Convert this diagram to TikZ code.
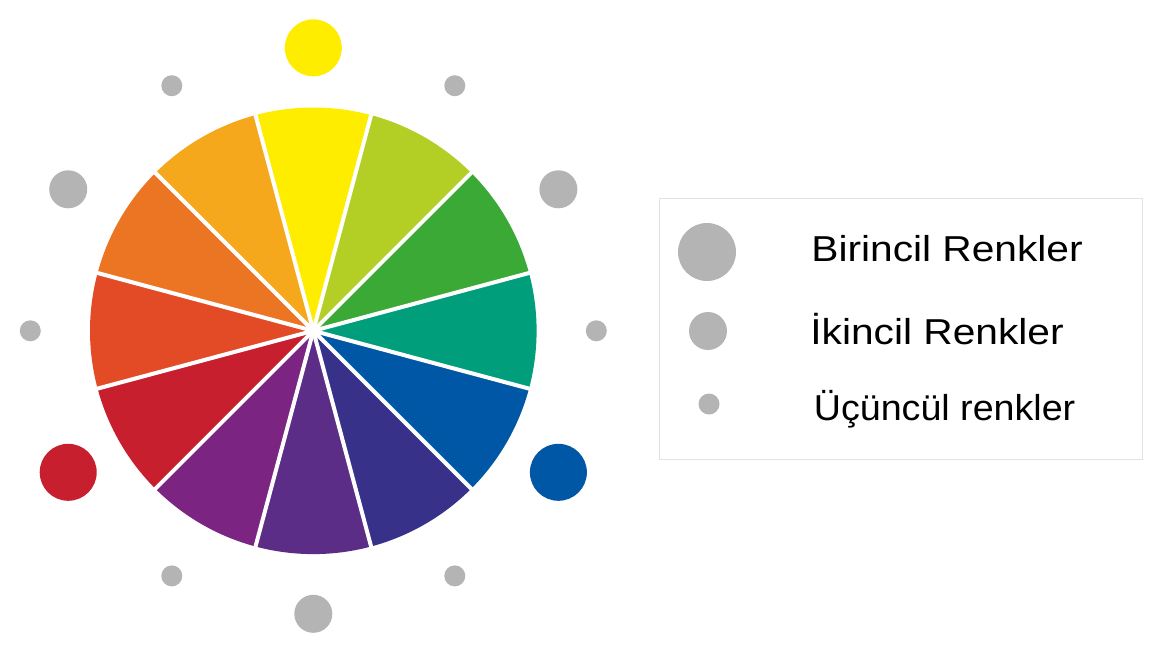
\documentclass[tikz,border=0pt]{standalone}
\usepackage{fontspec}
\newfontfamily\legendfont[FakeStretch=1.13]{Liberation Sans}
\newfontfamily\legendfontn[FakeStretch=1.045]{Liberation Sans}
\definecolor{cYellow}{HTML}{FFED00}
\definecolor{cYG}{HTML}{B3CF26}
\definecolor{cGreen}{HTML}{3AA935}
\definecolor{cTeal}{HTML}{009E7B}
\definecolor{cBlue}{HTML}{0057A6}
\definecolor{cIndigo}{HTML}{37318A}
\definecolor{cPurple}{HTML}{5C2D86}
\definecolor{cViolet}{HTML}{7B2481}
\definecolor{cRed}{HTML}{C81F2E}
\definecolor{cRO}{HTML}{E34B27}
\definecolor{cOrange}{HTML}{EC7524}
\definecolor{cYO}{HTML}{F6A81C}
\definecolor{dotgray}{HTML}{B4B4B4}
\definecolor{bordergray}{HTML}{E2E2E2}
\begin{document}
\begin{tikzpicture}[x=0.02cm,y=-0.02cm,
  dot/.style={circle,fill=#1,inner sep=0pt,draw=none},
  primdot/.style={dot=#1,minimum size=1.14cm},
  secdot/.style={dot=#1,minimum size=0.76cm},
  terdot/.style={dot=#1,minimum size=0.42cm},
  legtext/.style={anchor=base west,inner sep=0pt,font=\legendfont\fontsize{20.5}{24}\selectfont}]
\fill[white] (0,0) rectangle (1160,664);
\useasboundingbox (0,0) rectangle (1160,664);
\coordinate (c) at (313.3,330.8);
\begin{scope}[shift={(c)},x=0.02cm,y=0.02cm]
  \foreach \a/\col in {75/cYellow,45/cYG,15/cGreen,-15/cTeal,-45/cBlue,-75/cIndigo,-105/cPurple,-135/cViolet,-165/cRed,165/cRO,135/cOrange,105/cYO}
    {\fill[\col] (0,0) -- (\a:223.3) arc[start angle=\a,delta angle=30,radius=223.3] -- cycle;}
  \foreach \a in {15,45,...,345}
    {\draw[white,line width=0.08cm] (0,0) -- (\a:226);}
  \node[primdot=cYellow] (p1) at (90:283) {};
  \node[primdot=cBlue] (p2) at (-30:283) {};
  \node[primdot=cRed] (p3) at (-150:283) {};
  \node[secdot=dotgray] (s1) at (30:283) {};
  \node[secdot=dotgray] (s2) at (150:283) {};
  \node[secdot=dotgray] (s3) at (-90:283) {};
  \node[terdot=dotgray] (t1) at (0:283) {};
  \node[terdot=dotgray] (t2) at (60:283) {};
  \node[terdot=dotgray] (t3) at (120:283) {};
  \node[terdot=dotgray] (t4) at (180:283) {};
  \node[terdot=dotgray] (t5) at (-60:283) {};
  \node[terdot=dotgray] (t6) at (-120:283) {};
\end{scope}
\node[draw=bordergray,line width=0.6pt,fill=white,rectangle,inner sep=0pt,minimum width=9.66cm,minimum height=5.22cm,anchor=north west] (legend) at (659,198) {};
\node[primdot=dotgray,minimum size=1.16cm] (lp) at (707,252) {};
\node[secdot=dotgray] (ls) at (708,331) {};
\node[terdot=dotgray] (lt) at (709,404) {};
\node[legtext] (lab1) at (811,261) {Birincil Renkler};
\node[legtext] (lab2) at (810,344) {İkincil Renkler};
\node[legtext,font=\legendfontn\fontsize{20.5}{24}\selectfont] (lab3) at (813.5,420) {Üçüncül renkler};
\end{tikzpicture}
\end{document}
